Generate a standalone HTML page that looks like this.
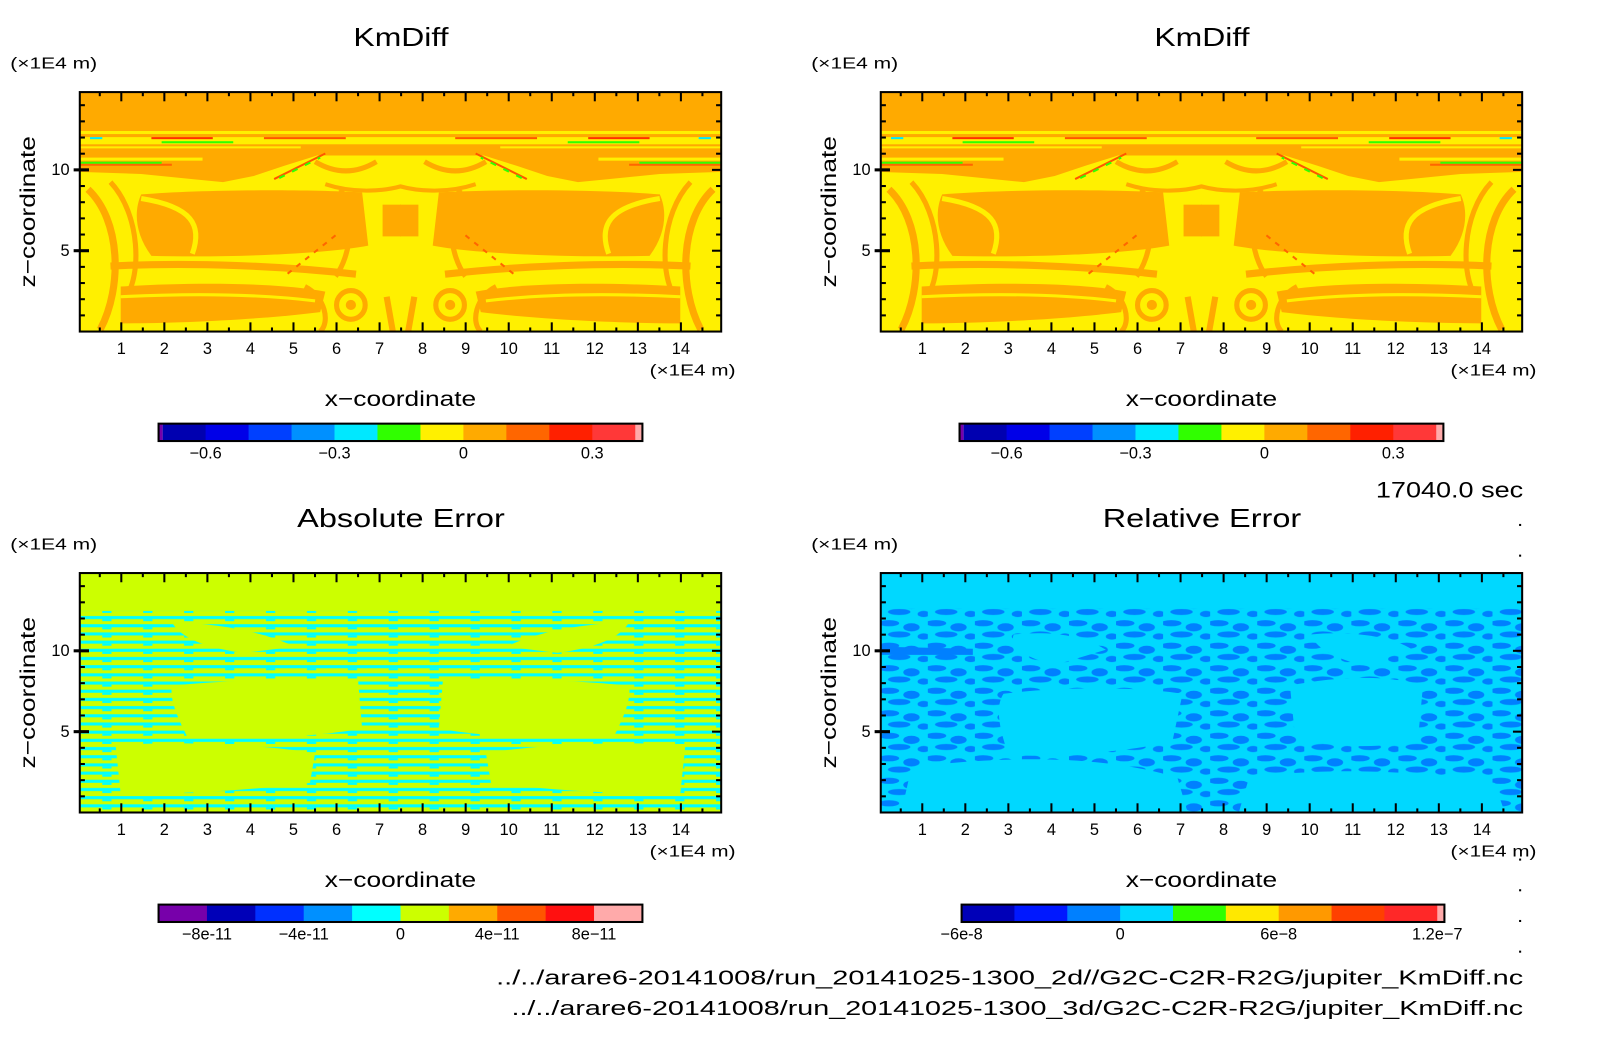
<!DOCTYPE html>
<html><head><meta charset="utf-8"><style>
html,body{margin:0;padding:0;background:#fff;width:1604px;height:1054px;overflow:hidden}
svg{display:block}
text{font-family:"Liberation Sans",sans-serif;fill:#000}
</style></head><body>
<svg id="root" width="1604" height="1054" viewBox="0 0 1568 1030" preserveAspectRatio="none" xmlns="http://www.w3.org/2000/svg">
<defs>
  <pattern id="cyanStripes" width="40" height="8" patternUnits="userSpaceOnUse">
    <rect width="40" height="8" fill="#ccff00"/>
    <rect y="2" width="40" height="3" fill="#00ffff"/>
    <rect x="22" y="5" width="9" height="2" fill="#00ffff"/>
  </pattern>
  <pattern id="blueBlots" width="46" height="22" patternUnits="userSpaceOnUse">
    <rect width="46" height="22" fill="#00d8ff"/>
    <ellipse cx="8" cy="5" rx="10" ry="3" fill="#0080ff"/>
    <ellipse cx="30" cy="9" rx="8" ry="4" fill="#0080ff"/>
    <ellipse cx="18" cy="16" rx="11" ry="3" fill="#0080ff"/>
    <ellipse cx="42" cy="18" rx="6" ry="3" fill="#0080ff"/>
  </pattern>
  <g id="kmHalf">
    <path d="M0,55 L216,55 L216,52 L314,52 L314,62 L232,62 L200,72 L170,82 L140,88 L110,85 L60,80 L0,78 Z" fill="#ffaa00"/>
    <rect x="0" y="64" width="120" height="3" fill="#fff000"/>
    <rect x="0" y="70" width="90" height="2" fill="#ff6600"/>
    <path d="M60,100 C120,95 220,95 276,98 L282,150 C240,158 150,162 70,160 C55,140 52,118 60,100 Z" fill="#ffaa00"/>
    <path d="M60,104 C110,112 120,130 110,158" stroke="#fff000" stroke-width="5" fill="none"/>
    <path d="M8,95 C40,125 42,190 20,232" stroke="#ffaa00" stroke-width="7" fill="none"/>
    <path d="M30,88 C60,120 60,180 45,200" stroke="#ffaa00" stroke-width="5" fill="none"/>
    <rect x="296" y="110" width="18" height="31" fill="#ffaa00"/>
    <path d="M230,68 C250,80 270,80 290,68" stroke="#ffaa00" stroke-width="5" fill="none"/>
    <path d="M240,90 C270,100 300,96 314,92" stroke="#ffaa00" stroke-width="4" fill="none"/>
    <path d="M255,95 C270,120 265,160 250,180" stroke="#ffaa00" stroke-width="5" fill="none"/>
    <path d="M30,170 C110,166 200,170 270,178" stroke="#ffaa00" stroke-width="7" fill="none"/>
    <path d="M40,190 C120,185 200,187 240,195 L235,215 C180,222 100,226 40,226 Z" fill="#ffaa00"/>
    <path d="M40,200 C120,196 180,198 230,204" stroke="#fff000" stroke-width="3" fill="none"/>
    <circle cx="265" cy="208" r="14" stroke="#ffaa00" stroke-width="5" fill="none"/>
    <circle cx="265" cy="208" r="5" fill="#ffaa00"/>
    <path d="M220,190 C240,200 245,225 235,234" stroke="#ffaa00" stroke-width="5" fill="none"/>
    <path d="M300,200 L306,234" stroke="#ffaa00" stroke-width="6"/>
    <path d="M190,85 L240,60" stroke="#ff5500" stroke-width="2"/>
    <path d="M195,84 L235,64" stroke="#30ff00" stroke-width="2" stroke-dasharray="6 8"/>
    <path d="M250,140 L200,180" stroke="#ff6600" stroke-width="2" stroke-dasharray="5 6"/>
    <rect x="70" y="44" width="60" height="2" fill="#ff3000"/>
    <rect x="80" y="48" width="70" height="2" fill="#30ff00"/>
    <rect x="0" y="68" width="80" height="2" fill="#30ff00"/>
    <rect x="180" y="44" width="80" height="2" fill="#ff5500"/>
    <rect x="10" y="44" width="12" height="2" fill="#00e8ff"/>
  </g>
  <g id="kmField">
    <rect width="627" height="234" fill="#fff000"/>
    <rect width="627" height="38" fill="#ffaa00"/>
    <rect y="41" width="627" height="3" fill="#ffaa00"/>
    <rect y="51" width="627" height="2" fill="#ffaa00"/>
    <use href="#kmHalf"/>
    <use href="#kmHalf" transform="translate(627,0) scale(-1,1)"/>
  </g>
  <g id="absHalf">
    <path d="M90,110 C150,104 230,102 272,104 L276,152 C230,160 160,164 105,160 C95,140 88,124 90,110 Z" fill="#ccff00"/>
    <path d="M35,168 C110,164 180,168 230,176 L225,205 C170,212 100,216 40,216 Z" fill="#ccff00"/>
    <path d="M90,48 C150,50 190,62 210,72 L160,78 C130,74 100,66 90,48 Z" fill="#ccff00"/>
  </g>
  <g id="absField">
    <rect width="627" height="234" fill="url(#cyanStripes)"/>
    <rect width="627" height="37" fill="#ccff00"/>
    <use href="#absHalf"/>
    <use href="#absHalf" transform="translate(627,0) scale(-1,1)"/>
  </g>
  <g id="relField">
    <rect width="627" height="234" fill="url(#blueBlots)"/>
    <rect width="627" height="35" fill="#00d8ff"/>
    <path d="M120,118 C180,110 260,112 295,118 L285,165 C230,176 170,180 125,178 C115,150 112,130 120,118 Z" fill="#00d8ff"/>
    <path d="M30,190 C120,178 220,178 290,200 L300,234 L20,234 Z" fill="#00d8ff"/>
    <path d="M400,110 C450,100 500,100 530,110 L525,165 C480,172 430,170 405,160 Z" fill="#00d8ff"/>
    <path d="M360,200 C430,190 520,192 600,205 L610,234 L350,234 Z" fill="#00d8ff"/>
    <path d="M130,60 C170,56 200,62 220,75 L170,90 C140,82 125,72 130,60 Z" fill="#00d8ff"/>
    <path d="M420,60 C460,56 500,62 520,75 L470,90 C440,82 425,72 420,60 Z" fill="#00d8ff"/>
    <path d="M0,72 L90,74 L90,80 L0,80 Z" fill="#0080ff"/>
  </g>
</defs>
<g id="panels"></g>
<text x="1345" y="486" font-size="22" textLength="144" lengthAdjust="spacingAndGlyphs">17040.0 sec</text>
<text x="485" y="962" font-size="20" textLength="1004" lengthAdjust="spacingAndGlyphs">../../arare6-20141008/run_20141025-1300_2d//G2C-C2R-R2G/jupiter_KmDiff.nc</text>
<text x="500" y="992" font-size="20" textLength="989" lengthAdjust="spacingAndGlyphs">../../arare6-20141008/run_20141025-1300_3d/G2C-C2R-R2G/jupiter_KmDiff.nc</text>
<g fill="#000">
  <rect x="1485" y="512" width="2" height="2"/><rect x="1485" y="542" width="2" height="2"/>
  <rect x="1485" y="839" width="2" height="2"/><rect x="1485" y="869" width="2" height="2"/>
  <rect x="1485" y="899" width="2" height="2"/><rect x="1485" y="929" width="2" height="2"/>
</g>
</svg>
<script>
const xTickValues = [1,2,3,4,5,6,7,8,9,10,11,12,13,14];
const xMinorValues = [0.5,1.5,2.5,3.5,4.5,5.5,6.5,7.5,8.5,9.5,10.5,11.5,12.5,13.5,14.5];
const zMajorValues = [5,10];
const zMinorValues = [1,2,3,4,6,7,8,9,11,12,13,14];
const panelTitles = ["KmDiff","KmDiff","Absolute Error","Relative Error"];
const panelTitleWidths = [93,93,203,194];
const panelFields = ["#kmField","#kmField","#absField","#relField"];
const panelX = [78,861,78,861];
const panelY = [90,90,560,560];
const cbKmEdges = [-0.7,-0.6,-0.5,-0.4,-0.3,-0.2,-0.1,0,0.1,0.2,0.3,0.4];
const cbKmColors = ["#0000b0","#0000e8","#0040ff","#0090ff","#00e8ff","#30ff00","#fff000","#ffaa00","#ff6600","#ff2000","#ff3838"];
const cbKmLabels = [-0.6,-0.3,0,0.3];
const cbKmText = ["-0.6","-0.3","0","0.3"];
const cbAbsEdges = [-10,-8,-6,-4,-2,0,2,4,6,8,10];
const cbAbsColors = ["#7700aa","#0000b8","#0030ff","#0090ff","#00ffff","#ccff00","#ffaa00","#ff5500","#ff1010","#ffaaaa"];
const cbAbsLabels = [-8,-4,0,4,8];
const cbAbsText = ["-8e-11","-4e-11","0","4e-11","8e-11"];
const cbRelEdges = [-6,-4,-2,0,2,4,6,8,10,12];
const cbRelColors = ["#0000b8","#0018ff","#0080ff","#00d8ff","#30ff00","#ffe800","#ff9900","#ff4000","#ff2828"];
const cbRelLabels = [-6,0,6,12];
const cbRelText = ["-6e-8","0","6e-8","1.2e-7"];

const NS="http://www.w3.org/2000/svg";
const W=627,H=234;
function sx(v){return v*42.08-1.5;}
function sz(v){return H-v*15.8;}
function mk(tag,attrs,parent){const e=document.createElementNS(NS,tag);for(const k in attrs)e.setAttribute(k,attrs[k]);parent.appendChild(e);return e;}
const panels=document.getElementById('panels');

function colorbar(parent,x0,x1,y,edges,colors,labels,texts,preColor,postColor){
  const g=mk('g',{},parent);
  
  
  const lo=edges[0],hi=edges[edges.length-1];
  const pre=preColor?4:0, post=postColor?7:0;
  const a=x0+pre,b=x1-post;
  const cx=v=>a+(v-lo)/(hi-lo)*(b-a);
  if(preColor){const r=mk('rect',{x:x0,y:y,width:pre,height:17,fill:preColor},g);}
  for(let i=0;i<colors.length;i++){
    const r=mk('rect',{x:cx(edges[i]),y:y,width:cx(edges[i+1])-cx(edges[i])+0.5,height:17,fill:colors[i]},g);
    
    
  }
  if(postColor){const r=mk('rect',{x:b,y:y,width:post,height:17,fill:postColor},g);}
  mk('rect',{x:x0,y:y,width:x1-x0,height:17,fill:'none',stroke:'#000','stroke-width':2},g);
  for(let i=0;i<labels.length;i++){
    const t=mk('text',{x:cx(labels[i]),y:y+34,'font-size':16,'text-anchor':'middle'},g);
    t.textContent=texts[i].replace('-','\u2212');
    
    
  }
}

for(let p=0;p<4;p++){
  const px=panelX[p],py=panelY[p];
  const g=mk('g',{},panels);
  
  
  const tw=panelTitleWidths[p];
  const t=mk('text',{x:px+314-tw/2,y:py-45,'font-size':25,textLength:tw,lengthAdjust:'spacingAndGlyphs'},g);
  t.textContent=panelTitles[p];
  
  
  const u1=mk('text',{x:px-68,y:py-23,'font-size':15,textLength:85,lengthAdjust:'spacingAndGlyphs'},g);
  u1.textContent='(\u00d71E4 m)';
  
  
  const plot=mk('g',{transform:`translate(${px},${py})`},g);
  
  
  const cp='clip'+p;
  const cl=mk('clipPath',{id:cp},plot);mk('rect',{width:W,height:H},cl);
  const us=mk('use',{href:panelFields[p],'clip-path':`url(#${cp})`},plot);
  
  
  mk('rect',{width:W,height:H,fill:'none',stroke:'#000','stroke-width':2},plot);
  const ax=mk('g',{stroke:'#000','stroke-width':2},plot);
  
  
  xTickValues.forEach(v=>{const x=sx(v);mk('line',{x1:x,x2:x,y1:0,y2:9},ax);mk('line',{x1:x,x2:x,y1:H,y2:H-9},ax);});
  xMinorValues.forEach(v=>{const x=sx(v);mk('line',{x1:x,x2:x,y1:0,y2:4},ax);mk('line',{x1:x,x2:x,y1:H,y2:H-4},ax);});
  zMajorValues.forEach(v=>{const y=sz(v);mk('line',{x1:-6,x2:9,y1:y,y2:y,'stroke-width':3},ax);mk('line',{x1:W,x2:W-9,y1:y,y2:y},ax);});
  zMinorValues.forEach(v=>{const y=sz(v);mk('line',{x1:0,x2:5,y1:y,y2:y},ax);mk('line',{x1:W,x2:W-5,y1:y,y2:y},ax);});
  xTickValues.forEach(v=>{const l=mk('text',{x:sx(v),y:H+22,'font-size':16,'text-anchor':'middle'},plot);l.textContent=v;
    
    });
  zMajorValues.forEach(v=>{const l=mk('text',{x:-10,y:sz(v)+5,'font-size':16,'text-anchor':'end'},plot);l.textContent=v;
    
    });
  const u2=mk('text',{x:W-70,y:H+43,'font-size':15,textLength:84,lengthAdjust:'spacingAndGlyphs'},plot);
  u2.textContent='(\u00d71E4 m)';
  
  
  const xl=mk('text',{x:W/2-74,y:H+73,'font-size':21,textLength:148,lengthAdjust:'spacingAndGlyphs'},plot);
  xl.textContent='x\u2212coordinate';
  
  
  const zl=mk('text',{x:-74,y:0,'font-size':21,textLength:148,lengthAdjust:'spacingAndGlyphs',transform:`translate(-44,${H/2}) rotate(-90)`},plot);
  zl.textContent='z\u2212coordinate';
  
  
  const cy=py+H+90;
  if(p<2) colorbar(g,px+77,px+550,cy,cbKmEdges,cbKmColors,cbKmLabels,cbKmText,'#7700aa','#ffaaaa');
  else if(p==2) colorbar(g,px+77,px+550,cy,cbAbsEdges,cbAbsColors,cbAbsLabels,cbAbsText,null,null);
  else colorbar(g,px+79,px+551,cy,cbRelEdges,cbRelColors,cbRelLabels,cbRelText,null,'#ffaaaa');
}
</script>
</body></html>
